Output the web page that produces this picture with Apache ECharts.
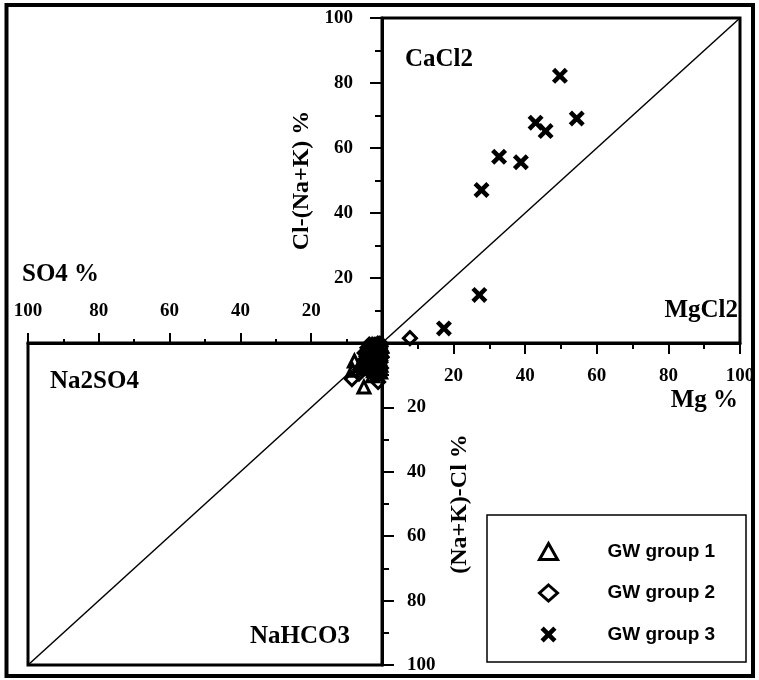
<!DOCTYPE html>
<html>
<head>
<meta charset="utf-8">
<script src="https://cdn.jsdelivr.net/npm/echarts@6/dist/echarts.min.js"></script>
<style>
  html, body { margin: 0; padding: 0; background: #fff; }
  #chart { width: 759px; height: 680px; }
</style>
</head>
<body>
<div id="chart"></div>
<script>
// upper-right field: Mg % vs Cl-(Na+K) %
const group3Mg = [49.7, 54.4, 42.9, 45.7, 32.7, 38.8, 27.8, 27.2, 17.3];
const group3Cl = [82.2, 69.1, 67.8, 65.2, 57.3, 55.6, 47.1, 14.8, 4.5];
const group2Mg = [7.8];
const group2Cl = [1.5];

// lower-left field: SO4 % vs (Na+K)-Cl %  (dense cluster near the origin)
const group1SO4 = [7.8, 8.3, 5.1, 0.3, 1.0, 1.8, 2.6, 3.4, 4.2, 0.6, 1.5, 2.3, 3.1, 4.0, 0.9, 2.0, 3.0, 0.4, 1.4, 2.6, 5.2,
  0.2, 0.8, 1.6, 2.4, 3.2, 4.6, 5.5, 6.3, 1.2, 2.1, 3.6, 4.8, 0.5, 1.7,
  0.1, 0.7, 1.3, 1.9, 2.8, 3.7, 4.4, 0.4, 1.1, 2.2, 3.3, 0.6, 1.5, 2.7, 3.9, 0.3, 2.4];
const group1NaCl = [5.6, 8.5, 13.7, 0.5, 1.2, 0.8, 2.0, 1.5, 3.0, 3.2, 4.0, 4.6, 5.2, 6.0, 6.5, 7.2, 8.0, 9.0, 9.6, 10.2, 7.5,
  2.2, 2.6, 2.9, 3.5, 4.2, 5.6, 6.2, 7.0, 5.4, 6.1, 2.4, 4.1, 7.6, 8.3,
  1.0, 0.4, 0.9, 1.7, 0.6, 1.1, 2.0, 3.9, 3.4, 2.7, 3.0, 5.0, 4.8, 5.7, 4.9, 6.9, 8.6];
const group2SO4 = [8.5, 1.1, 6.5, 0.2, 1.2, 2.2, 3.2, 0.8, 1.9, 2.9, 3.8, 0.5, 1.6, 2.7, 0.3, 1.1, 4.6,
  0.6, 1.4, 2.5, 3.5, 4.4, 0.9, 2.0, 3.0, 5.8, 1.8, 0.2,
  0.4, 1.0, 1.7, 2.3, 3.6, 4.1, 0.1, 1.3, 2.6, 3.9, 0.7, 2.1, 3.3, 4.9];
const group2NaCl = [11.2, 12.1, 9.5, 0.3, 0.2, 0.6, 1.0, 2.4, 2.8, 3.6, 4.2, 5.5, 5.9, 6.8, 7.8, 8.6, 5.0,
  1.6, 1.8, 1.3, 2.2, 3.4, 4.5, 4.8, 5.1, 8.0, 9.9, 3.0,
  1.1, 2.9, 0.7, 2.0, 0.5, 1.5, 4.4, 3.8, 3.2, 2.6, 6.2, 6.4, 6.0, 3.1];

const axisTicks = [0, 20, 40, 60, 80, 100];
const groupNames = ['GW group 1', 'GW group 2', 'GW group 3'];

const serif = "'Liberation Serif', 'Times New Roman', serif";
const crossPath = 'path://M0,2 L2,0 L5,3 L8,0 L10,2 L7,5 L10,8 L8,10 L5,7 L2,10 L0,8 L3,5 Z';

function pairs(xs, ys) {
  return xs.map((x, i) => [x, ys[i]]);
}

function tickLabel(v) {
  return v === 0 ? '' : String(v);
}

function labelStyle(margin) {
  return { formatter: tickLabel, color: '#000', fontFamily: serif, fontWeight: 'bold', fontSize: 19, margin };
}

function ticks(major, minor) {
  return {
    axisTick: { length: major, lineStyle: { color: '#000', width: 2 } },
    minorTick: { show: true, splitNumber: 2, length: minor, lineStyle: { color: '#000', width: 2 } },
  };
}

function axis(gridIndex, position, opts) {
  return Object.assign({
    gridIndex,
    type: 'value',
    position,
    min: axisTicks[0],
    max: axisTicks[axisTicks.length - 1],
    interval: 20,
    splitLine: { show: false },
    axisLine: { onZero: false, lineStyle: { color: '#000', width: 3 } },
  }, opts);
}

const chart = echarts.init(document.getElementById('chart'));

// hollow outlines: overlapping points pile up into a dark cluster
const markerStyle = { color: 'rgba(255,255,255,0)', borderColor: '#000', borderWidth: 3, opacity: 1 };
const diagStyle = { color: '#000', width: 1.5 };
const nameStyle = { color: '#000', fontFamily: serif, fontWeight: 'bold', fontSize: 24 };
const bigFont = `bold 25px ${serif}`;

chart.setOption({
  animation: false,
  backgroundColor: '#fff',
  grid: [
    { left: 382, top: 18, width: 358, height: 325, show: true, borderColor: '#000', borderWidth: 3 },
    { left: 28, top: 343, width: 354, height: 322, show: true, borderColor: '#000', borderWidth: 3 },
  ],
  xAxis: [
    axis(0, 'bottom', Object.assign(ticks(11, 6), { axisLabel: labelStyle(24) })),
    axis(1, 'top', Object.assign(ticks(10, 4), { inverse: true, axisLabel: labelStyle(22) })),
  ],
  yAxis: [
    axis(0, 'left', Object.assign(ticks(12, 7), {
      name: 'Cl-(Na+K) %',
      nameLocation: 'middle',
      nameRotate: 90,
      nameGap: 68,
      nameTextStyle: nameStyle,
      axisLabel: labelStyle(29),
    })),
    axis(1, 'right', Object.assign(ticks(12, 7), {
      inverse: true,
      name: '(Na+K)-Cl %',
      nameLocation: 'middle',
      nameRotate: 90,
      nameGap: 66,
      nameTextStyle: nameStyle,
      axisLabel: labelStyle(25),
    })),
  ],
  legend: {
    data: [
      { name: groupNames[0], itemStyle: { borderWidth: 3, color: '#fff' } },
      { name: groupNames[1], itemStyle: { borderWidth: 3, color: '#fff' } },
      { name: groupNames[2] },
    ],
    orient: 'vertical',
    left: 538,
    top: 542,
    padding: 0,
    itemGap: 22.5,
    itemWidth: 18,
    itemHeight: 16,
    selectedMode: false,
    textStyle: {
      color: '#000',
      fontFamily: "'Liberation Sans', Arial, sans-serif",
      fontWeight: 'bold',
      fontSize: 19,
      padding: [0, 0, 0, 45],
    },
  },
  graphic: [
    { type: 'rect', shape: { x: 6.5, y: 5, width: 746.5, height: 671 }, style: { fill: 'none', stroke: '#000', lineWidth: 4 }, silent: true },
    { type: 'rect', shape: { x: 487, y: 515, width: 259, height: 147 }, style: { fill: 'none', stroke: '#000', lineWidth: 1.5 }, silent: true },
    { type: 'text', x: 405, y: 60, style: { text: 'CaCl2', font: bigFont, fill: '#000', textAlign: 'left', textVerticalAlign: 'middle' } },
    { type: 'text', x: 738, y: 311, style: { text: 'MgCl2', font: bigFont, fill: '#000', textAlign: 'right', textVerticalAlign: 'middle' } },
    { type: 'text', x: 50, y: 382, style: { text: 'Na2SO4', font: bigFont, fill: '#000', textAlign: 'left', textVerticalAlign: 'middle' } },
    { type: 'text', x: 250, y: 637, style: { text: 'NaHCO3', font: bigFont, fill: '#000', textAlign: 'left', textVerticalAlign: 'middle' } },
    { type: 'text', x: 22, y: 275, style: { text: 'SO4 %', font: bigFont, fill: '#000', textAlign: 'left', textVerticalAlign: 'middle' } },
    { type: 'text', x: 738, y: 401, style: { text: 'Mg %', font: bigFont, fill: '#000', textAlign: 'right', textVerticalAlign: 'middle' } },
  ],
  series: [
    { type: 'line', xAxisIndex: 0, yAxisIndex: 0, data: [[0, 0], [100, 100]], symbol: 'none', silent: true, lineStyle: diagStyle },
    { type: 'line', xAxisIndex: 1, yAxisIndex: 1, data: [[0, 0], [100, 100]], symbol: 'none', silent: true, lineStyle: diagStyle },
    {
      name: groupNames[0], type: 'scatter', xAxisIndex: 1, yAxisIndex: 1,
      symbol: 'triangle', symbolSize: 12, itemStyle: markerStyle,
      data: pairs(group1SO4, group1NaCl),
    },
    {
      name: groupNames[1], type: 'scatter', xAxisIndex: 1, yAxisIndex: 1,
      symbol: 'diamond', symbolSize: 13, itemStyle: markerStyle,
      data: pairs(group2SO4, group2NaCl),
    },
    {
      name: groupNames[1], type: 'scatter', xAxisIndex: 0, yAxisIndex: 0,
      symbol: 'diamond', symbolSize: 13, itemStyle: markerStyle,
      data: pairs(group2Mg, group2Cl),
    },
    {
      name: groupNames[2], type: 'scatter', xAxisIndex: 0, yAxisIndex: 0,
      symbol: crossPath, symbolSize: 16, itemStyle: { color: '#000', opacity: 1 },
      data: pairs(group3Mg, group3Cl),
    },
  ],
});
</script>
</body>
</html>
